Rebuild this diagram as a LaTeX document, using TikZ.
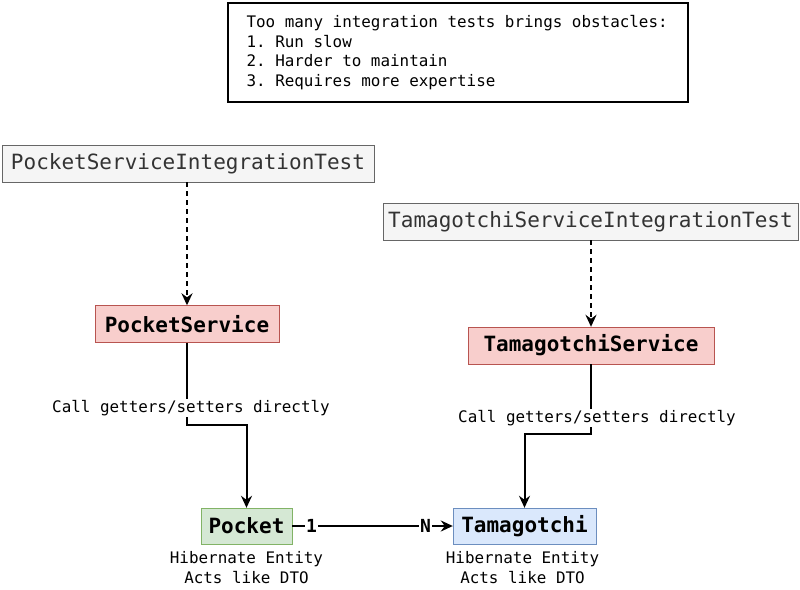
\documentclass[tikz,border=0pt]{standalone}
\usepackage{fontspec}
\setmonofont{DejaVu Sans Mono}
\usetikzlibrary{arrows.meta,positioning}

\definecolor{testfill}{HTML}{F5F5F5}
\definecolor{testline}{HTML}{666666}
\definecolor{testtext}{HTML}{333333}
\definecolor{svcfill}{HTML}{F8CECC}
\definecolor{svcline}{HTML}{B85450}
\definecolor{pocketfill}{HTML}{D5E8D4}
\definecolor{pocketline}{HTML}{82B366}
\definecolor{tamafill}{HTML}{DAE8FC}
\definecolor{tamaline}{HTML}{6C8EBF}

\tikzset{
  box/.style={
    draw,
    inner sep=0pt,
    minimum height=37pt,
    font=\ttfamily\fontsize{21}{24}\selectfont,
  },
  boldbox/.style={box, font=\ttfamily\bfseries\fontsize{21}{24}\selectfont},
  small/.style={font=\ttfamily\fontsize{15.9}{19.5}\selectfont},
  link/.style={draw, line width=2pt, -{Stealth[length=12pt,width=11pt,inset=4pt]}},
  mult/.style={fill=white, inner sep=1pt, font=\ttfamily\bfseries\fontsize{18}{20}\selectfont},
}

\begin{document}
\begin{tikzpicture}[x=1pt,y=-1pt]
  \useasboundingbox (0,0) rectangle (800,589);
  % note on top
  \draw[line width=1.2pt] (228,3) rectangle (688,102);
  \node[small, align=left, anchor=north west] (note) at (243,12)
  {Too many integration tests brings obstacles:\\
    1. Run slow\\
    2. Harder to maintain\\
    3. Requires more expertise};
  \node[box, fill=testfill, draw=testline, text=testtext, minimum width=372pt]
  (pocket-test) at (188,163.5) {PocketServiceIntegrationTest};
  \node[box, fill=testfill, draw=testline, text=testtext, minimum width=415pt]
  (tama-test) at (590.5,221.5) {TamagotchiServiceIntegrationTest};
  \node[boldbox, fill=svcfill, draw=svcline, minimum width=184pt]
  (pocket-svc) at (187,324) {PocketService};
  \node[boldbox, fill=svcfill, draw=svcline, minimum width=246pt]
  (tama-svc) at (591,345.5) {TamagotchiService};
  \node[boldbox, fill=pocketfill, draw=pocketline, minimum width=91pt, minimum height=36pt]
  (pocket) at (246.5,526) {Pocket};
  \node[boldbox, fill=tamafill, draw=tamaline, minimum width=143pt, minimum height=36pt]
  (tama) at (524.5,526) {Tamagotchi};
  \node[small, align=center, below=4pt of pocket] (pocket-note)
  {Hibernate Entity\\Acts like DTO};
  \node[small, align=center, below=4pt of tama, xshift=-2pt] (tama-note)
  {Hibernate Entity\\Acts like DTO};
  \coordinate (pocket-bend) at (187,425);
  \coordinate (tama-bend) at (591,434);
  \path[link, dash pattern=on 5pt off 4pt] (pocket-test.south -| pocket-svc) -- (pocket-svc.north);
  \path[link, dash pattern=on 5pt off 4pt] (tama-test.south -| tama-svc) -- (tama-svc.north);
  \path[link] (pocket-svc.south) -- (pocket-bend) -| (pocket.north);
  \path[link] (tama-svc.south) -- (tama-bend) -| (tama.north);
  \path[link] (pocket.east) -- (tama.west)
  node[mult, pos=0.12] (one) {1}
  node[mult, pos=0.83] (many) {N};
  \node[small, fill=white, inner sep=1pt] (pocket-call) at (191,408) {Call getters/setters directly};
  \node[small, fill=white, inner sep=1pt] (tama-call) at (597,418) {Call getters/setters directly};
\end{tikzpicture}
\end{document}
